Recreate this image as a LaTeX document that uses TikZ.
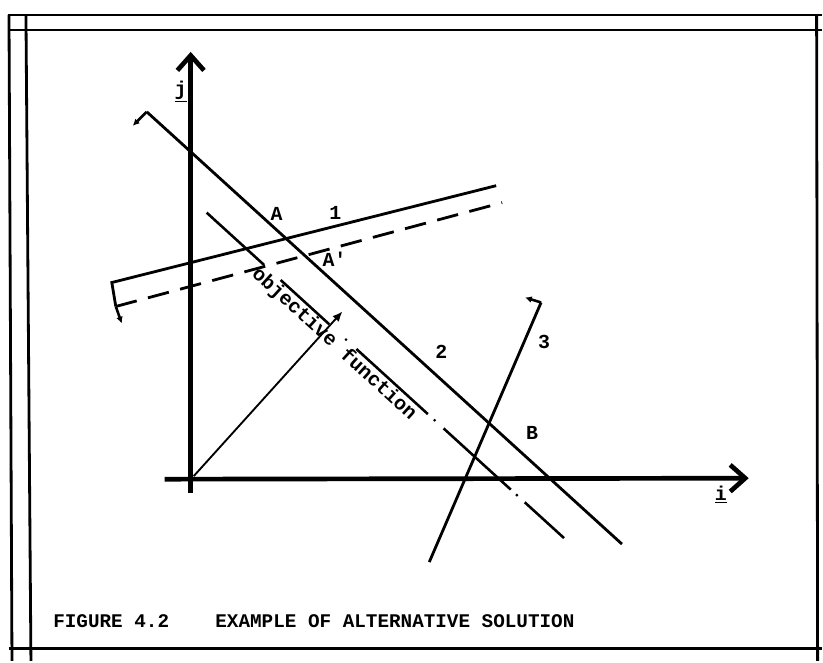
\documentclass[tikz,border=0pt]{standalone}
\usepackage{fontspec}
\setmonofont{Liberation Mono}
\usetikzlibrary{arrows.meta,calc}

\begin{document}
\begin{tikzpicture}[
    x=0.3mm, y=-0.3mm,
    every node/.style={font=\ttfamily\bfseries\fontsize{17}{19}\selectfont, inner sep=1pt},
    frame/.style={line width=2.4pt},
    axis/.style={line width=4pt, -{Straight Barb[length=4.5mm,width=8mm]}},
    cons/.style={line width=2.4pt},
    shifted/.style={line width=2.4pt, dash pattern=on 6.5mm off 3.5mm},
    objseg/.style={line width=2.2pt},
    objtext/.style={font=\ttfamily\bfseries\fontsize{17}{19}\selectfont, inner sep=1.5pt},
    grad/.style={line width=1.6pt, -{Latex[length=3mm,width=2.6mm]}},
    hook/.style={line width=2.2pt, -{Latex[length=2mm,width=2mm]}},
    caption/.style={font=\ttfamily\bfseries\fontsize{16.5}{18}\selectfont, anchor=west}
  ]
  \fill[white] (0,0) rectangle (823,662);

  % frame
  \draw[frame] (8,15) -- (823,15);
  \draw[frame] (9,30) -- (823,30);
  \draw[frame] (9,15) -- (12,662);
  \draw[frame] (26,15) -- (31,662);
  \draw[frame] (818,15) -- (819,662);
  \draw[frame] (9,650) -- (823,650);

  % axes
  \coordinate (O) at (191,480);
  \coordinate (ytop) at (191,52);
  \coordinate (ybot) at (191,494);
  \coordinate (xleft) at (165,480);
  \coordinate (xright) at (750,479);
  \draw[axis] (ybot) -- (ytop);
  \draw[axis] (xleft) -- (xright);
  \node (jlab) at (181,92) {\underline{j}};
  \node (ilab) at (722,495) {\underline{i}};

  % constraint 2
  \coordinate (c2a) at (147,112);
  \coordinate (c2b) at (623,545);
  \coordinate (c2h) at (133,126);
  \draw[cons] (c2b) -- (c2a);
  \draw[hook] (c2a) -- (c2h);

  % constraint 1, and shifted
  \coordinate (c1a) at (112,283);
  \coordinate (c1b) at (497,186);
  \coordinate (c1c) at (116,307);
  \coordinate (c1d) at (503,203);
  \coordinate (c1h) at (122,324);
  \draw[cons] (c1b) -- (c1a) -- (c1c);
  \draw[shifted] (c1c) -- (c1d);
  \draw[hook] (c1c) -- (c1h);

  % constraint 3
  \coordinate (c3a) at (430,563);
  \coordinate (c3b) at (542,303);
  \coordinate (c3h) at (526,298);
  \draw[cons] (c3a) -- (c3b);
  \draw[hook] (c3b) -- (c3h);

  % objective function
  \coordinate (oa) at (207,213);
  \coordinate (ob) at (565,539);
  \foreach \s/\e in {0/0.161, 0.207/0.343, 0.419/0.619, 0.663/0.851, 0.890/1}
    \draw[objseg] ($(oa)!\s!(ob)$) -- ($(oa)!\e!(ob)$);
  \foreach \d in {0.39, 0.638, 0.868}
    \fill ($(oa)!\d!(ob)$) circle (1.3pt);
  \path (oa) -- (ob) node[objtext, pos=0.378, sloped, below] (objlab) {objective function};

  % gradient
  \coordinate (g0) at (194,477);
  \coordinate (g1) at (343,312);
  \draw[grad] (g0) -- (g1);

  % labels
  \node (labA) at (277,214) {A};
  \node (lab1) at (336,213) {1};
  \node (labAp) at (335,260) {A'};
  \node (lab2) at (442,352) {2};
  \node (lab3) at (545,343) {3};
  \node (labB) at (533,434) {B};

  % caption
  \node[caption] (cap) at (52,622) {FIGURE 4.2\hspace{1.8em} EXAMPLE OF ALTERNATIVE SOLUTION};

\end{tikzpicture}
\end{document}
